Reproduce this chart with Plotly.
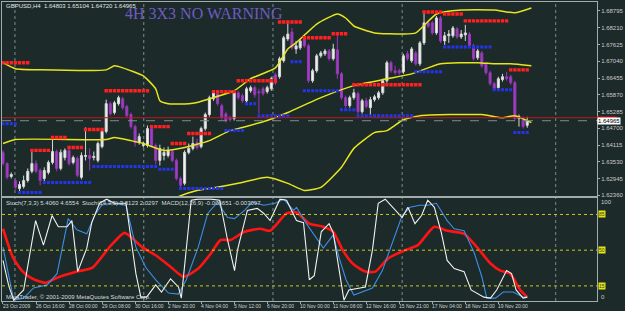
import plotly.graph_objects as go

# ---------------- data ----------------
opens = [1.6386,1.6347,1.6302,1.6288,1.6260,1.6267,1.6288,1.6320,1.6347,1.6323,
         1.6295,1.6316,1.6351,1.6389,1.6330,1.6368,1.6393,1.6351,1.6365,1.6299,
         1.6372,1.6375,1.6368,1.6358,1.6406,1.6459,1.6556,1.6525,1.6556,1.6573,
         1.6546,1.6518,1.6476,1.6420,1.6410,1.6410,1.6469,1.6410,1.6358,1.6375,
         1.6375,1.6389,1.6358,1.6295,1.6278,1.6386,1.6400,1.6420,1.6406,1.6469,
         1.6518,1.6573,1.6591,1.6549,1.6521,1.6507,1.6504,1.6594,1.6584,1.6566,
         1.6601,1.6612,1.6598,1.6608,1.6598,1.6608,1.6657,1.6650,1.6706,1.6782,
         1.6806,1.6747,1.6751,1.6782,1.6758,1.6636,1.6671,1.6723,1.6730,1.6740,
         1.6713,1.6744,1.6660,1.6577,1.6549,1.6577,1.6591,1.6528,1.6566,1.6542,
         1.6570,1.6577,1.6594,1.6636,1.6699,1.6671,1.6671,1.6667,1.6730,1.6706,
         1.6733,1.6695,1.6768,1.6838,1.6838,1.6803,1.6855,1.6775,1.6793,1.6793,
         1.6817,1.6789,1.6796,1.6799,1.6758,1.6716,1.6733,1.6695,1.6664,1.6626,
         1.6612,1.6640,1.6650,1.6650,1.6629,1.6504,1.6504,1.64803]
highs = [1.6393,1.6351,1.6316,1.6295,1.6285,1.6305,1.6330,1.6389,1.6358,1.6330,
         1.6334,1.6358,1.6441,1.6396,1.6396,1.6400,1.6403,1.6375,1.6372,1.6386,
         1.6473,1.6400,1.6389,1.6424,1.6466,1.6570,1.6563,1.6566,1.6584,1.6580,
         1.6552,1.6525,1.6483,1.6452,1.6424,1.6480,1.6476,1.6417,1.6413,1.6403,
         1.6406,1.6396,1.6365,1.6302,1.6393,1.6417,1.6441,1.6434,1.6476,1.6525,
         1.6584,1.6601,1.6601,1.6556,1.6528,1.6514,1.6601,1.6601,1.6591,1.6615,
         1.6619,1.6619,1.6608,1.6615,1.6619,1.6650,1.6664,1.6720,1.6793,1.6845,
         1.6820,1.6775,1.6782,1.6800,1.6765,1.6678,1.6730,1.6740,1.6747,1.6747,
         1.6765,1.6799,1.6667,1.6584,1.6584,1.6608,1.6598,1.6573,1.6577,1.6580,
         1.6587,1.6601,1.6643,1.6706,1.6706,1.6688,1.6678,1.6730,1.6740,1.6754,
         1.6740,1.6775,1.6873,1.6845,1.6845,1.6862,1.6862,1.6806,1.6813,1.6827,
         1.6824,1.6813,1.6831,1.6806,1.6765,1.6747,1.6740,1.6702,1.6671,1.6633,
         1.6650,1.6660,1.6667,1.6657,1.6636,1.6518,1.6511,1.65104]
lows = [1.6340,1.6292,1.6295,1.6257,1.6250,1.6260,1.6281,1.6313,1.6313,1.6271,
        1.6285,1.6309,1.6344,1.6320,1.6323,1.6358,1.6340,1.6344,1.6299,1.6292,
        1.6358,1.6323,1.6358,1.6351,1.6400,1.6452,1.6514,1.6518,1.6549,1.6535,
        1.6507,1.6469,1.6406,1.6413,1.6403,1.6403,1.6403,1.6344,1.6340,1.6358,
        1.6368,1.6351,1.6288,1.6260,1.6271,1.6379,1.6393,1.6396,1.6400,1.6462,
        1.6511,1.6566,1.6549,1.6500,1.6490,1.6493,1.6497,1.6570,1.6559,1.6559,
        1.6594,1.6577,1.6521,1.6584,1.6591,1.6601,1.6622,1.6643,1.6699,1.6775,
        1.6744,1.6730,1.6744,1.6751,1.6629,1.6629,1.6664,1.6716,1.6723,1.6706,
        1.6706,1.6643,1.6570,1.6542,1.6542,1.6570,1.6521,1.6521,1.6539,1.6514,
        1.6563,1.6570,1.6587,1.6629,1.6664,1.6657,1.6657,1.6660,1.6706,1.6699,
        1.6688,1.6688,1.6761,1.6820,1.6796,1.6796,1.6768,1.6761,1.6768,1.6786,
        1.6782,1.6782,1.6775,1.6751,1.6706,1.6709,1.6681,1.6657,1.6619,1.6601,
        1.6605,1.6633,1.6636,1.6622,1.6497,1.6476,1.6469,1.64720]
closes = [1.6347,1.6299,1.6309,1.6264,1.6274,1.6288,1.6320,1.6347,1.6320,1.6288,
          1.6323,1.6351,1.6389,1.6330,1.6386,1.6393,1.6347,1.6368,1.6306,1.6375,
          1.6375,1.6365,1.6372,1.6417,1.6459,1.6556,1.6521,1.6559,1.6577,1.6542,
          1.6514,1.6476,1.6420,1.6441,1.6413,1.6469,1.6410,1.6358,1.6400,1.6386,
          1.6393,1.6358,1.6295,1.6271,1.6386,1.6400,1.6417,1.6403,1.6469,1.6518,
          1.6577,1.6594,1.6556,1.6507,1.6497,1.6500,1.6594,1.6577,1.6566,1.6608,
          1.6612,1.6587,1.6594,1.6591,1.6612,1.6643,1.6629,1.6713,1.6786,1.6799,
          1.6751,1.6758,1.6775,1.6758,1.6636,1.6671,1.6723,1.6733,1.6740,1.6713,
          1.6747,1.6660,1.6577,1.6549,1.6577,1.6594,1.6528,1.6566,1.6546,1.6570,
          1.6580,1.6594,1.6636,1.6699,1.6671,1.6664,1.6664,1.6723,1.6713,1.6747,
          1.6695,1.6768,1.6838,1.6827,1.6803,1.6855,1.6775,1.6793,1.6799,1.6820,
          1.6789,1.6799,1.6803,1.6758,1.6713,1.6740,1.6688,1.6664,1.6626,1.6608,
          1.6643,1.6650,1.6643,1.6629,1.6504,1.6511,1.6476,1.64965]
bars = list(range(len(closes)))

# envelope / band lines (bar index, price)
upper_x = [0,3,9,25,27,29,34,37,38,40,45,47,50,56,60,66,69,71,76,81,83,85,90,97,100,105,111,119,124,128]
upper_y = [1.6699,1.6678,1.6674,1.6674,1.6688,1.6681,1.6653,1.6608,1.6566,1.6556,1.6556,1.6560,1.6573,
           1.6601,1.6643,1.6681,1.6747,1.6768,1.6834,1.6869,1.6855,1.6827,1.6803,1.6799,1.6803,1.6869,
           1.6883,1.6883,1.6873,1.6890]
mid_x = [0,3,25,27,31,34,39,44,50,55,58,64,69,77,85,93,99,106,115,119,123,128]
mid_y = [1.6417,1.6431,1.6431,1.6438,1.6427,1.6417,1.6393,1.6403,1.6427,1.6462,1.6473,1.6497,1.6525,
         1.6577,1.6619,1.6643,1.6660,1.6695,1.6699,1.6695,1.6695,1.6688]
lower_x = [37,42,47,50,57,64,69,73,77,82,85,90,93,97,101,116,121,124,128]
lower_y = [1.6195,1.6229,1.6253,1.6260,1.6278,1.6299,1.6278,1.6253,1.6264,1.6334,1.6400,1.6455,1.6462,
           1.6500,1.6514,1.6518,1.6507,1.6514,1.6490]

# resistance (red) and support (blue) dot runs: (first bar, last bar, price)
red_runs = [(0,6,1.6699),(7,11,1.6393),(12,15,1.6438),(16,19,1.6403),(20,24,1.6466),(25,35,1.6601),
            (36,40,1.6476),(41,44,1.6417),(45,50,1.6452),(51,56,1.6598),(57,66,1.6636),(67,72,1.6841),
            (73,79,1.6786),(80,83,1.6800),(85,101,1.6622),(102,106,1.6876),(107,111,1.6869),
            (112,122,1.6845),(123,127,1.6674)]
blue_runs = [(0,3,1.6486),(4,9,1.6246),(10,21,1.6281),(22,37,1.6337),(38,41,1.6327),(43,53,1.6260),
             (54,58,1.6462),(59,61,1.6556),(62,69,1.6514),(70,72,1.6702),(73,81,1.6601),(82,85,1.6535),
             (86,99,1.6514),(100,106,1.6667),(107,118,1.6754),(119,123,1.6605),(124,127,1.6455)]

# oscillator pane (bar index, value 0-100)
white_x = [0,1.4,2.6,5,7.9,9.8,11.9,13.4,15.5,16.7,18.1,20.3,21.5,23.4,25.1,27,29.8,31,32.2,33.4,34.8,
           37,38.4,40.6,42.5,43.2,45.6,47.3,50.4,52.5,54.4,56.1,56.8,59.2,61.6,63.2,64.7,67.1,68.7,71.1,
           72.8,74.2,75.4,77.1,79,80,82.6,83.8,86.2,87.8,89.5,90.9,92.6,95,96.7,98.1,99.8,101.4,102.9,
           104.5,106.2,107.6,109.3,111.7,113.4,116.5,118.1,119.6,122,123.2,124.3,126,127]
white_v = [40,15,1,11,79,55,84,73,73,79,29,52,77,96,100,96,96,60,27,4,4,16,9,22,14,3,99,100,100,99,60,
           30,50,89,91,86,79,100,99,79,77,21,25,68,76,67,1,11,13,14,50,96,100,89,82,92,76,84,99,92,67,40,
           32,29,11,4,3,11,30,27,11,3,4]
blue_x = [0,1.7,2.6,5,7.4,10.7,13.1,15.8,17.9,20.3,22.2,23.9,25.8,29.8,32.2,34.6,37,40.1,42.5,44.4,47.3,
          49.6,52,54.4,56.1,58.5,60.4,63.2,65.9,68,70.4,71.1,73.5,77.6,80,81.4,83.1,85,87.1,89.5,91.9,94.3,
          96.7,98.6,100.9,102.9,105,107.6,109.3,111.7,114.1,116,117.2,119.3,121.2,123.6,126,127]
blue_v = [53,18,1,3,13,16,27,81,70,66,84,94,96,94,53,33,21,8,7,21,53,86,97,82,81,89,97,94,96,100,89,92,
          76,52,65,43,21,6,9,13,30,57,84,92,94,94,96,79,71,69,48,24,3,3,9,9,4,4]
red_x = [0,2.4,4.8,7.2,10.3,13.1,17.9,21.7,25.8,29.4,31.3,33.7,37,40.8,43.7,47.3,50.4,52.7,55.1,58.5,
         62.3,64.7,68.7,71.1,74.2,77.6,80,82.3,84.7,87.8,90.2,93.3,97.4,100.5,104.5,107.6,111.7,114.8,
         118.1,120.5,122.9,125.3,127]
red_v = [71,43,29,22,18,23,29,33,53,67,62,53,45,33,24,32,47,60,60,68,71,69,86,87,76,73,68,50,37,29,29,
         42,50,55,73,69,66,53,37,30,27,11,4]
levels = [85, 50, 15]

price_ticks = [1.68795,1.68210,1.67625,1.67040,1.66455,1.65870,1.65285,1.64700,1.64115,1.63530,1.62945,1.62360]
time_labels = ["23 Oct 2009","26 Oct 16:00","28 Oct 00:00","29 Oct 08:00","30 Oct 16:00","2 Nov 20:00",
               "4 Nov 04:00","5 Nov 12:00","6 Nov 20:00","10 Nov 00:00","11 Nov 08:00","12 Nov 16:00",
               "15 Nov 21:00","17 Nov 04:00","18 Nov 12:00","19 Nov 20:00"]
time_label_bars = [0,8,16,24,32,40,48,56,64,72,80,88,96,104,112,120]
week_separators = [2.9,34.1,65.4,96.7,133.9]
alert_price = 1.6507
bid_price = 1.64965

# ---------------- figure ----------------
BG = "#1c2a2a"
FRAME = "#a3acac"
YEL = "#e6e61e"
fig = go.Figure()

for xs, ys in [(upper_x, upper_y), (mid_x, mid_y), (lower_x, lower_y)]:
    fig.add_trace(go.Scatter(x=xs, y=ys, mode="lines", line=dict(color=YEL, width=1.5, shape="spline", smoothing=0.5),
                             xaxis="x", yaxis="y", hoverinfo="skip"))

fig.add_trace(go.Candlestick(x=bars, open=opens, high=highs, low=lows, close=closes,
                             increasing=dict(line=dict(color="#d8d8d8", width=1), fillcolor="#f4f4f4"),
                             decreasing=dict(line=dict(color="#9838b8", width=1), fillcolor="#a040c4"),
                             whiskerwidth=0, xaxis="x", yaxis="y"))

def expand(runs):
    xs, ys = [], []
    for a, b, p in runs:
        for k in range(a, b + 1):
            xs.append(k); ys.append(p)
    return xs, ys

rx, ry = expand(red_runs)
bx, by = expand(blue_runs)
fig.add_trace(go.Scatter(x=rx, y=ry, mode="markers", marker=dict(symbol="square", size=3.4, color="#ff2020"),
                         xaxis="x", yaxis="y"))
fig.add_trace(go.Scatter(x=bx, y=by, mode="markers", marker=dict(symbol="square", size=3, color="#2434e8"),
                         xaxis="x", yaxis="y"))

fig.add_trace(go.Scatter(x=red_x, y=red_v, mode="lines", line=dict(color="#ff1414", width=2.6, shape="spline", smoothing=0.6),
                         xaxis="x2", yaxis="y2"))
fig.add_trace(go.Scatter(x=blue_x, y=blue_v, mode="lines", line=dict(color="#3d8fe6", width=1.1),
                         xaxis="x2", yaxis="y2"))
fig.add_trace(go.Scatter(x=white_x, y=white_v, mode="lines", line=dict(color="#f2f2f2", width=1.1),
                         xaxis="x2", yaxis="y2"))

xr = [-0.24, 143.9]
shapes = []
for s in week_separators:
    shapes.append(dict(type="line", xref="x", x0=s, x1=s, yref="paper", y0=0, y1=1,
                       line=dict(color="#7d8e8e", width=1, dash="dot"), layer="below"))
for lv in levels:
    shapes.append(dict(type="line", xref="paper", x0=0, x1=1, yref="y2", y0=lv, y1=lv,
                       line=dict(color="#c8c81e", width=1, dash="dot")))
shapes.append(dict(type="line", xref="paper", x0=0, x1=1, yref="y", y0=alert_price, y1=alert_price,
                   line=dict(color="#c01818", width=1)))
shapes.append(dict(type="line", xref="paper", x0=0, x1=1, yref="y", y0=bid_price, y1=bid_price,
                   line=dict(color="#7a9090", width=1, dash="dash")))
shapes.append(dict(type="rect", xref="paper", x0=1.0, x1=1.033, yref="y", y0=alert_price - 0.0004,
                   y1=alert_price + 0.0004, fillcolor="#e01010", line=dict(width=0)))

F = "Liberation Sans"
ann = []
ann.append(dict(xref="paper", yref="y", x=1.0, y=bid_price, xanchor="left", yanchor="middle",
                text="%.5f" % bid_price, showarrow=False, bgcolor="#ffffff",
                font=dict(family=F, size=6, color="#000000"), borderpad=0))
for lv in levels:
    ann.append(dict(xref="paper", yref="y2", x=1.002, y=lv, xanchor="left", yanchor="middle",
                    text=str(lv), showarrow=False, bgcolor="#e4e41c",
                    font=dict(family=F, size=5, color="#404000"), borderpad=0))
ann.append(dict(xref="paper", yref="paper", x=1.004, y=0.33, xanchor="left", yanchor="middle", text="100",
                showarrow=False, font=dict(family=F, size=6, color="#c8cccc")))
ann.append(dict(xref="paper", yref="paper", x=1.004, y=0.012, xanchor="left", yanchor="middle", text="0",
                showarrow=False, font=dict(family=F, size=6, color="#c8cccc")))
for b, t in zip(time_label_bars, time_labels):
    ann.append(dict(xref="x", yref="paper", x=b, y=-0.017, xanchor="left", yanchor="middle", text=t,
                    showarrow=False, font=dict(family=F, size=5, color="#d0d4d4"), xshift=-2))
ann.append(dict(xref="paper", yref="paper", x=0.0033, y=0.987, xanchor="left", yanchor="middle",
                text="GBPUSD,H4  1.64803 1.65104 1.64720 1.64965", showarrow=False,
                font=dict(family=F, size=6, color="#e0e4e4")))
ann.append(dict(xref="paper", yref="paper", x=0.340, y=0.962, xanchor="center", yanchor="middle",
                text="4H 3X3 NO WARNING", showarrow=False,
                font=dict(family="Liberation Serif", size=16, color="#6e5cc4")))
ann.append(dict(xref="paper", yref="paper", x=0.0033, y=0.327, xanchor="left", yanchor="middle",
                text="Stoch(7,3,3) 5.4060 4.6554  Stoch(14,3,5) 3.8123 2.0297  MACD(12,26,9) -0.006651 -0.003097",
                showarrow=False, font=dict(family=F, size=6, color="#d8dcdc")))
ann.append(dict(xref="paper", yref="paper", x=0.0033, y=0.014, xanchor="left", yanchor="middle",
                text="MetaTrader, \u00a9 2001-2009 MetaQuotes Software Corp.", showarrow=False,
                font=dict(family=F, size=6, color="#d8dcdc")))

fig.update_layout(
    width=625, height=311, margin=dict(l=1, r=20, t=1, b=10),
    paper_bgcolor=BG, plot_bgcolor=BG, showlegend=False,
    shapes=shapes, annotations=ann,
    xaxis=dict(domain=[0, 1], anchor="y", range=xr, showgrid=False, zeroline=False, showticklabels=False,
               ticks="", showline=True, linecolor=FRAME, linewidth=1, mirror=True, rangeslider=dict(visible=False)),
    yaxis=dict(domain=[0.35, 1.0], anchor="x", range=[1.62326, 1.69108], side="right", showgrid=False,
               zeroline=False, tickvals=price_ticks, ticktext=["%.5f" % v for v in price_ticks],
               tickfont=dict(family=F, size=6, color="#c8cccc"), ticks="outside", ticklen=2, tickcolor=FRAME,
               showline=True, linecolor=FRAME, linewidth=1, mirror=True),
    xaxis2=dict(domain=[0, 1], anchor="y2", range=xr, showgrid=False, zeroline=False, showticklabels=False,
                ticks="outside", ticklen=2, tickcolor=FRAME, tickvals=time_label_bars,
                showline=True, linecolor=FRAME, linewidth=1, mirror=True),
    yaxis2=dict(domain=[0, 0.3433], anchor="x2", range=[0.2, 100.8], side="right", showgrid=False,
                zeroline=False, showticklabels=False, showline=True, linecolor=FRAME, linewidth=1, mirror=True),
)

fig.write_html("out.html")
